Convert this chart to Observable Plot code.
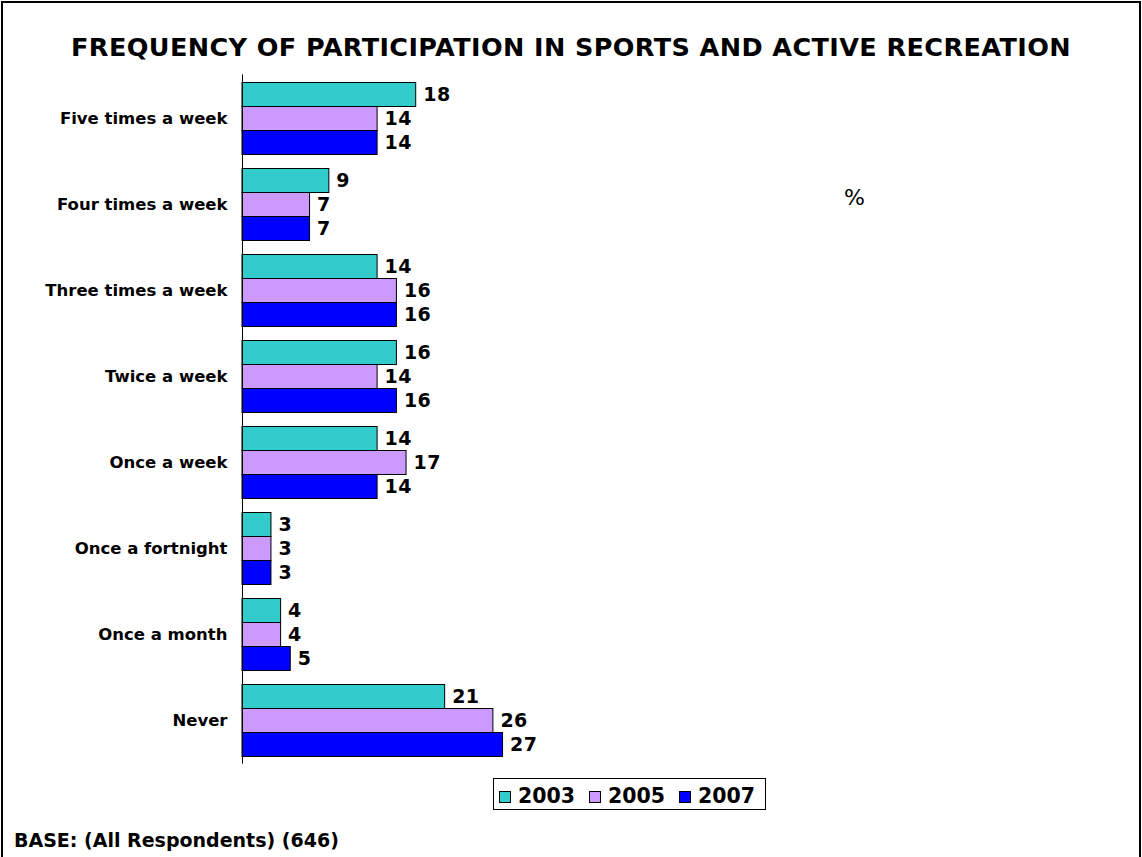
<!DOCTYPE html>
<html>
<head>
<meta charset="utf-8">
<script src="https://cdn.jsdelivr.net/npm/d3@7"></script>
<script src="https://cdn.jsdelivr.net/npm/@observablehq/plot@0.6"></script>
<style>
  body { margin: 0; background: #fff; }
  #wrap { position: relative; width: 1142px; height: 857px; overflow: hidden; font-family: "DejaVu Sans", sans-serif; color: #000; }
  #border { position: absolute; left: 1px; top: 1px; width: 1140px; height: 900px; border: 2px solid #000; box-sizing: border-box; }
  #title { position: absolute; left: 0; top: 32px; width: 1142px; text-align: center; font-weight: bold; font-size: 25.5px; line-height: 30px; letter-spacing: 0.4px; white-space: nowrap; }
  #chart { position: absolute; left: 0; top: 60px; }
  #pct { position: absolute; left: 844px; top: 185px; font-size: 22px; line-height: 26px; }
  #legend { position: absolute; left: 493px; top: 778px; width: 273px; height: 32px; border: 1px solid #000; box-sizing: border-box; background: #fff; }
  #legend .sw { position: absolute; top: 11.5px; width: 12px; height: 12px; border: 1px solid #000; box-sizing: border-box; }
  #legend .lb { position: absolute; top: 5px; font-weight: bold; font-size: 20.5px; line-height: 24px; white-space: nowrap; }
  #base { position: absolute; left: 14px; top: 829px; font-weight: bold; font-size: 19px; line-height: 22px; white-space: nowrap; }
</style>
</head>
<body>
<div id="wrap">
  <div id="border"></div>
  <div id="title">FREQUENCY OF PARTICIPATION IN SPORTS AND ACTIVE RECREATION</div>
  <div id="chart"></div>
  <div id="pct">%</div>
  <div id="legend"></div>
  <div id="base">BASE: (All Respondents) (646)</div>
</div>
<script>
const categories = ["Five times a week", "Four times a week", "Three times a week", "Twice a week", "Once a week", "Once a fortnight", "Once a month", "Never"];
const years = ["2003", "2005", "2007"];
const values2003 = [18, 9, 14, 16, 14, 3, 4, 21];
const values2005 = [14, 7, 16, 14, 17, 3, 4, 26];
const values2007 = [14, 7, 16, 16, 14, 3, 5, 27];
const colors = ["#33CCCC", "#CC99FF", "#0000FF"];

const seriesValues = [values2003, values2005, values2007];
const data = [];
categories.forEach((c, i) => {
  years.forEach((y, j) => data.push({category: c, year: y, value: seriesValues[j][i]}));
});

const chart = Plot.plot({
  width: 1142,
  height: 710,
  marginLeft: 242,
  marginRight: 514,
  marginTop: 12.5,
  marginBottom: 5,
  style: {fontFamily: "DejaVu Sans", fontWeight: "bold", fontSize: "16.5px", color: "#000", background: "transparent", overflow: "visible"},
  x: {domain: [0, 40], axis: null},
  y: {domain: years, padding: 0, axis: null},
  fy: {domain: categories, paddingInner: 0.168, paddingOuter: 0.084, label: null},
  color: {domain: years, range: colors},
  marks: [
    Plot.barX(data, {x: "value", y: "year", fy: "category", fill: "year", stroke: "#000", strokeWidth: 1}),
    Plot.text(data, {x: "value", y: "year", fy: "category", text: d => String(d.value), dx: 7, textAnchor: "start", fontSize: 19, fontWeight: "bold", fill: "#000"}),
    Plot.ruleX([0], {stroke: "#000", strokeWidth: 1, insetTop: -7.6, insetBottom: -7.6}),
    Plot.axisFy({anchor: "left", tickSize: 0, tickPadding: 15, label: null, fontSize: 16.5, fontWeight: "bold"})
  ]
});
document.getElementById("chart").appendChild(chart);
d3.select(chart).selectAll('g[aria-label="text"] text').style("letter-spacing", "0.5px");

const legend = document.getElementById("legend");
years.forEach((y, i) => {
  const sw = document.createElement("div");
  sw.className = "sw";
  sw.style.left = (5 + i * 90) + "px";
  sw.style.background = colors[i];
  legend.appendChild(sw);
  const lb = document.createElement("div");
  lb.className = "lb";
  lb.style.left = (24 + i * 90) + "px";
  lb.textContent = y;
  legend.appendChild(lb);
});
</script>
</body>
</html>
